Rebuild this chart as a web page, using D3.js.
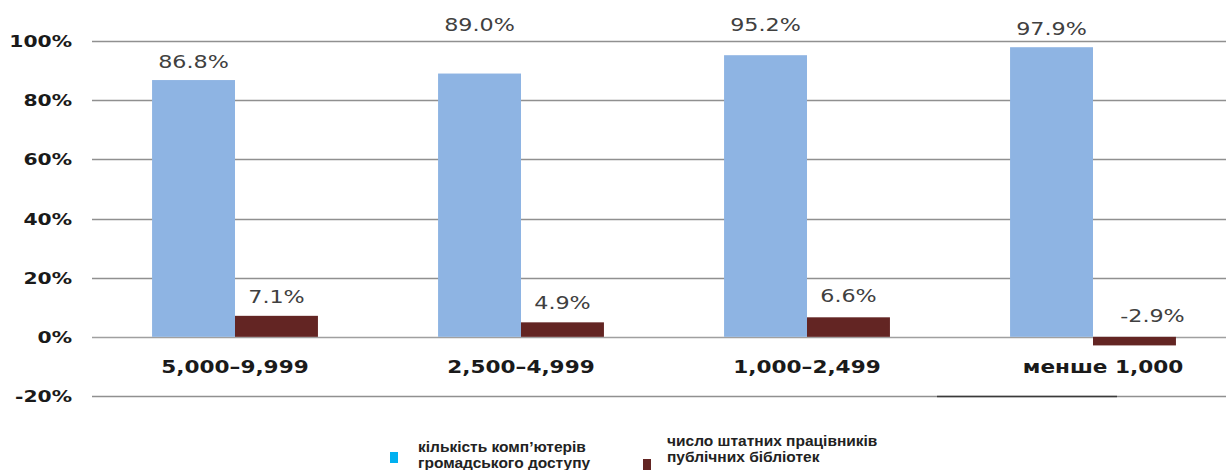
<!DOCTYPE html>
<html>
<head>
<meta charset="utf-8">
<script src="https://cdn.jsdelivr.net/npm/d3@7"></script>
<style>
  html, body { margin: 0; padding: 0; background: #fff; }
  svg { display: block; }
</style>
</head>
<body>
<svg id="chart" width="1226" height="470"></svg>
<script>
// ---- data ----
const categories = ["5,000–9,999", "2,500–4,999", "1,000–2,499", "менше 1,000"];
const seriesNames = ["кількість комп’ютерів громадського доступу", "число штатних працівників публічних бібліотек"];
const computers = [86.8, 89.0, 95.2, 97.9];
const staff = [7.1, 4.9, 6.6, -2.9];
const yTicks = [-20, 0, 20, 40, 60, 80, 100];
const legendLines = [["кількість комп’ютерів", "громадського доступу"], ["число штатних працівників", "публічних бібліотек"]];

// ---- styling (not data) ----
const colors = ["#8eb4e3", "#632523"];
const legendColors = ["#00b0f0", "#632523"];
const SX = 1.27; // horizontal stretch of text seen in the reference
const labelGap = [[12, 43, 24, 12], [13, 13, 15, 15]];
const labelDx = [[0, 0, 0, 0], [0, 0, 0, 18]];

const svg = d3.select("#chart");

const y = d3.scaleLinear().domain([-20, 100]).range([396, 41]);
const x0 = d3.scaleBand().domain(categories).range([92, 1236]).paddingInner(0.42).paddingOuter(0.21);
const x1 = d3.scaleBand().domain([0, 1]).range([0, x0.bandwidth()]);

function stretchedText(g, x, yy, txt) {
  return g.append("text")
    .attr("transform", `translate(${x},${yy}) scale(${SX},1)`)
    .text(txt);
}

// gridlines
const grid = svg.append("g");
grid.selectAll("line").data(yTicks).join("line")
  .attr("x1", 92).attr("x2", 1226)
  .attr("y1", d => Math.round(y(d)) + 0.5).attr("y2", d => Math.round(y(d)) + 0.5)
  .attr("stroke", d => d === 0 ? "#a0a0a0" : "#909090")
  .attr("stroke-width", 1.3);

// y tick labels
const yl = svg.append("g")
  .attr("font-family", "DejaVu Sans, Verdana, sans-serif")
  .attr("font-weight", "bold").attr("font-size", 16)
  .attr("fill", "#1a1a1a").attr("text-anchor", "end");
yTicks.forEach(t => stretchedText(yl, 72, y(t) + 6, t + "%"));

// bars
const series = [computers, staff];
const barsG = svg.append("g");
series.forEach((vals, si) => {
  barsG.selectAll(null).data(vals).join("rect")
    .attr("x", (d, i) => x0(categories[i]) + x1(si))
    .attr("width", x1.bandwidth())
    .attr("y", d => y(Math.max(0, d)))
    .attr("height", d => Math.abs(y(d) - y(0)))
    .attr("fill", colors[si]);
});

// value labels
const vl = svg.append("g")
  .attr("font-family", "DejaVu Sans, Verdana, sans-serif")
  .attr("font-size", 17.5).attr("fill", "#404040").attr("text-anchor", "middle");
series.forEach((vals, si) => {
  vals.forEach((v, i) => {
    const cx = x0(categories[i]) + x1(si) + x1.bandwidth() / 2 + labelDx[si][i];
    const top = y(Math.max(0, v));
    stretchedText(vl, cx, top - labelGap[si][i], v.toFixed(1) + "%");
  });
});

// category labels
const cl = svg.append("g")
  .attr("font-family", "DejaVu Sans, Verdana, sans-serif")
  .attr("font-weight", "bold").attr("font-size", 17)
  .attr("fill", "#1a1a1a").attr("text-anchor", "middle");
categories.forEach((c, i) => {
  const dx = i === 3 ? 10 : 0;
  stretchedText(cl, x0(c) + x0.bandwidth() / 2 + dx, 373, c);
});

// stray dark segment on the -20% line seen in the reference
svg.append("line")
  .attr("x1", 937).attr("x2", 1117)
  .attr("y1", Math.round(y(-20)) + 0.5).attr("y2", Math.round(y(-20)) + 0.5)
  .attr("stroke", "#3a3a3a").attr("stroke-width", 1.5);

// legend
const lg = svg.append("g")
  .attr("font-family", "Liberation Sans, Arial, sans-serif")
  .attr("font-weight", "bold").attr("font-size", 15.5).attr("fill", "#222");
const legendPos = [{sx: 390, sy: 452, tx: 418, ty: 452}, {sx: 643, sy: 459, tx: 667, ty: 446}];
legendLines.forEach((lines, i) => {
  const p = legendPos[i];
  lg.append("rect").attr("x", p.sx).attr("y", p.sy).attr("width", 8).attr("height", 11).attr("fill", legendColors[i]);
  lines.forEach((ln, j) => {
    lg.append("text").attr("x", p.tx).attr("y", p.ty + j * 16).text(ln);
  });
});
</script>
</body>
</html>
